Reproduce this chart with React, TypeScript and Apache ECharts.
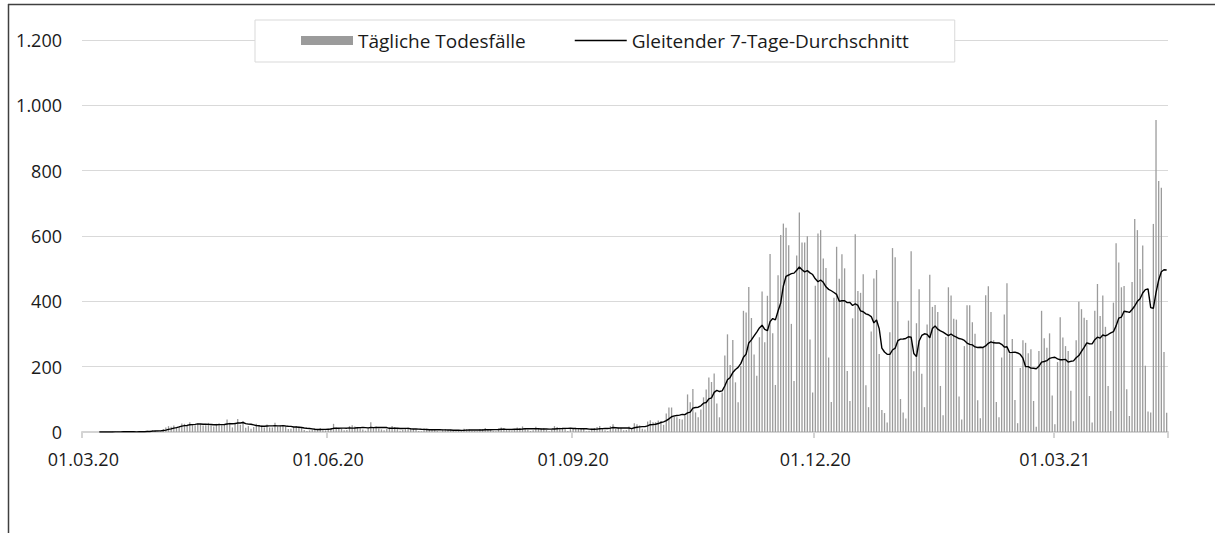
import React, { useEffect, useRef } from "react";
import * as echarts from "echarts";

// Daily deaths per month
const mar20 = [0,0,0,0,0,0,0,0,0,0,0,1,1,1,0,1,1,0,1,0,0,1,2,2,4,3,6,3,4,2,9];
const apr20 = [14,18,16,20,15,17,26,25,22,30,23,21,26,24,20,21,28,20,17,25,27,21,23,38,28,14,29,40,22,33];
const may20 = [13,18,10,15,25,20,21,14,23,14,14,28,17,21,19,16,9,10,15,18,16,12,6,3,5,8,10,9,12,8,5];
const jun20 = [8,12,25,14,9,11,5,6,18,21,17,12,14,8,4,12,30,14,17,11,8,5,10,14,18,15,9,4,6,12];
const jul20 = [14,10,9,8,3,2,11,10,7,8,9,3,1,8,9,6,7,4,2,3,5,10,9,8,4,3,2,9,9,12,8];
const aug20 = [7,4,2,11,14,12,7,6,2,6,14,12,17,12,7,3,5,16,10,11,12,6,2,7,18,15,13,13,9,3,11];
const sep20 = [12,13,12,9,10,2,4,10,12,15,18,12,5,3,18,24,10,13,12,5,6,17,10,27,24,20,10,8,32,36];
const oct20 = [30,30,35,33,22,57,75,75,48,45,40,38,50,115,91,132,60,45,69,106,130,167,153,179,87,45,121,234,299,205,282];
const nov20 = [152,91,202,371,366,444,349,237,172,290,430,275,417,545,302,144,480,603,638,625,572,331,156,540,672,580,580,599,283,121];
const dec20 = [448,608,618,531,502,228,92,411,567,469,544,501,187,95,348,605,432,426,483,143,76,308,470,496,239,67,58,29,305,563,535];
const jan21 = [400,101,60,41,341,553,186,333,437,178,76,329,481,383,389,367,141,51,291,443,418,347,344,109,38,263,388,388,336,301,97];
const feb21 = [42,260,419,446,367,281,92,45,228,360,455,240,285,98,27,196,281,273,241,253,95,16,248,371,287,258,302,112];
const mar21 = [24,214,351,289,263,248,126,33,281,399,376,350,343,110,29,371,453,355,418,322,141,64,396,578,519,443,447,131,49,459,652];
const apr21 = [618,499,571,203,63,60,637,955,768,748,245,59];

const dailyDeaths = [
  ...mar20, ...apr20, ...may20, ...jun20, ...jul20, ...aug20, ...sep20,
  ...oct20, ...nov20, ...dec20, ...jan21, ...feb21, ...mar21, ...apr21,
];

const yTicks = [0, 200, 400, 600, 800, 1000, 1200];
const labelMonths = ["03", "06", "09", "12"];
const seriesNames = ["Tägliche Todesfälle", "Gleitender 7-Tage-Durchschnitt"];

function pad(n: number) {
  return String(n).padStart(2, "0");
}

const categories: string[] = dailyDeaths.map((_, i) => {
  const d = new Date(Date.UTC(2020, 2, 1 + i));
  return `${pad(d.getUTCDate())}.${pad(d.getUTCMonth() + 1)}.${String(d.getUTCFullYear()).slice(2)}`;
});

// trailing 7-day average of the daily values (definition of the line series)
const movingAvg: (number | null)[] = dailyDeaths.map((_, i) => {
  if (i < 6) return null;
  let s = 0;
  for (let k = i - 6; k <= i; k++) s += dailyDeaths[k];
  return Math.round((s / 7) * 10) / 10;
});

function isQuarterStart(label: string) {
  return label.startsWith("01.") && labelMonths.includes(label.slice(3, 5));
}

function fmtY(v: number) {
  if (v >= 1000) return `${Math.floor(v / 1000)}.${String(v % 1000).padStart(3, "0")}`;
  return String(v);
}

const FONT = "Open Sans";

export default function App() {
  const ref = useRef<HTMLDivElement>(null);
  useEffect(() => {
    if (!ref.current) return;
    const chart = echarts.init(ref.current, undefined, { renderer: "svg" });
    chart.setOption({
      animation: false,
      backgroundColor: "#ffffff",
      textStyle: { fontFamily: FONT },
      grid: { left: 82, right: 47, top: 40, bottom: 101, containLabel: false },
      legend: {
        left: 255,
        top: 20,
        padding: [11, 46, 12, 46],
        itemGap: 49,
        itemWidth: 52,
        itemHeight: 9,
        backgroundColor: "#ffffff",
        borderColor: "#d9d9d9",
        borderWidth: 1,
        textStyle: { fontFamily: FONT, fontSize: 19, color: "#1a1a1a" },
        data: [
          { name: seriesNames[0], icon: "rect" },
          { name: seriesNames[1], icon: "path://M0,0L52,0L52,1.4L0,1.4Z" },
        ],
      },
      xAxis: {
        type: "category",
        data: categories,
        boundaryGap: true,
        axisLine: { show: true, lineStyle: { color: "#d4d4d4", width: 2 } },
        axisTick: {
          show: true,
          length: 6,
          interval: (idx: number, val: string) => isQuarterStart(val),
          lineStyle: { color: "#d4d4d4", width: 2 },
        },
        axisLabel: {
          interval: (idx: number, val: string) => isQuarterStart(val),
          margin: 18,
          fontFamily: FONT,
          fontSize: 18,
          color: "#1a1a1a",
        },
        splitLine: { show: false },
      },
      yAxis: {
        type: "value",
        min: yTicks[0],
        max: yTicks[yTicks.length - 1],
        interval: 200,
        axisLine: { show: false },
        axisTick: { show: false },
        axisLabel: {
          margin: 20,
          fontFamily: FONT,
          fontSize: 18,
          color: "#1a1a1a",
          formatter: (v: number) => fmtY(v),
        },
        splitLine: { lineStyle: { color: "#d9d9d9", width: 1 } },
      },
      series: [
        {
          name: seriesNames[0],
          type: "bar",
          data: dailyDeaths,
          barWidth: 1.3,
          itemStyle: { color: "#9b9b9b" },
          z: 2,
        },
        {
          name: seriesNames[1],
          type: "line",
          data: movingAvg,
          showSymbol: false,
          symbol: "none",
          lineStyle: { color: "#000000", width: 1.4 },
          itemStyle: { color: "#000000" },
          z: 3,
        },
      ],
      graphic: [
        { type: "line", shape: { x1: 8.5, y1: 4, x2: 8.5, y2: 533 }, style: { stroke: "#404040", lineWidth: 1.5 }, silent: true },
        { type: "line", shape: { x1: 8, y1: 4.5, x2: 1215, y2: 4.5 }, style: { stroke: "#404040", lineWidth: 1.5 }, silent: true },
      ],
    });
    return () => chart.dispose();
  }, []);
  return (
    <div
      ref={ref}
      style={{ position: "absolute", left: 0, top: 0, width: 1215, height: 533 }}
    />
  );
}
